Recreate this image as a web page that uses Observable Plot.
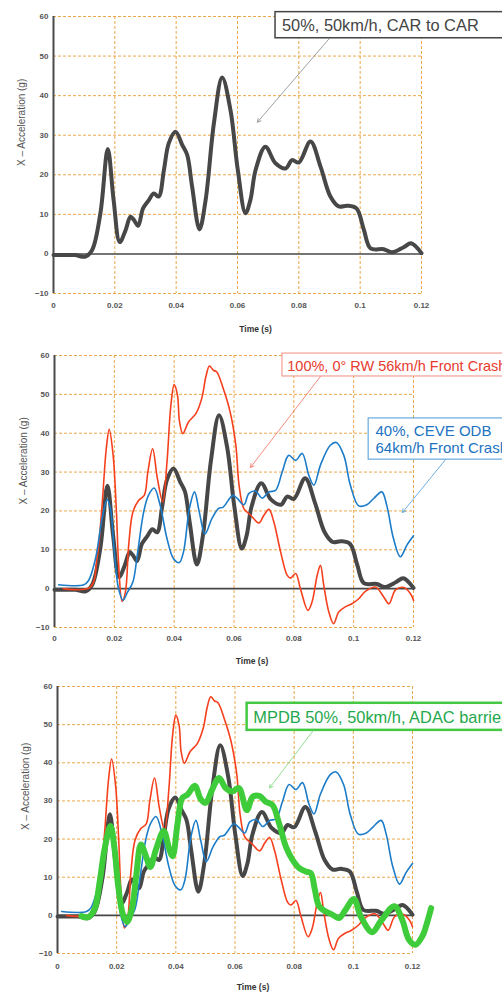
<!DOCTYPE html>
<html><head><meta charset="utf-8">
<script src="https://cdn.jsdelivr.net/npm/d3@7"></script>
<script src="https://cdn.jsdelivr.net/npm/@observablehq/plot@0.6"></script>
<style>
body{margin:0;background:#fff;width:502px;height:992px;overflow:hidden;position:relative;font-family:"Liberation Sans",Arial,sans-serif}
.panel{position:absolute;left:0;width:502px;overflow:hidden}
</style></head><body>
<div id="p1" class="panel" style="top:0;height:340px"></div>
<div id="p2" class="panel" style="top:340px;height:330px"></div>
<div id="p3" class="panel" style="top:670px;height:322px"></div>
<script>
// ---- tick labels ----
const timeTicks = [0, 0.02, 0.04, 0.06, 0.08, 0.1, 0.12];
const accelTicks = [-10, 0, 10, 20, 30, 40, 50, 60];
const xTitle = "Time (s)";
const yTitle = "X – Acceleration (g)";

// ---- series: 50%, 50km/h, CAR to CAR (black) ----
const carT = [0, 0.004, 0.007, 0.0104, 0.0126, 0.0153, 0.0177, 0.0196, 0.0216, 0.0235, 0.0251, 0.0262, 0.0276, 0.0292, 0.0311, 0.0327, 0.0343, 0.036, 0.0376, 0.0398, 0.042, 0.0436, 0.0452, 0.0476, 0.0496, 0.0523, 0.055, 0.0577, 0.0601, 0.0626, 0.0642, 0.0659, 0.0691, 0.0724, 0.0757, 0.0778, 0.08, 0.0838, 0.0871, 0.0903, 0.093, 0.0958, 0.0988, 0.1012, 0.1034, 0.1077, 0.1104, 0.1142, 0.1166, 0.12];
const carG = [-0.3, -0.3, -0.3, -0.7, 1, 10.3, 26.5, 13.6, 3.0, 6, 9.4, 8.6, 7.1, 11.5, 13.6, 15.3, 14.5, 21.2, 28, 30.9, 27.5, 25, 17, 6.2, 13.6, 33, 44.6, 36.4, 21.2, 10.3, 13.6, 21.2, 27.1, 22.9, 21.6, 23.7, 23.1, 28.4, 22, 14.5, 12, 12.2, 11.5, 6.1, 1.4, 1.2, 0.4, 1.7, 2.7, 0.2];

// ---- series: 100%, 0° RW 56km/h (red) ----
const rwT = [0.003, 0.012, 0.0142, 0.0159, 0.0173, 0.0183, 0.0196, 0.0207, 0.0214, 0.0226, 0.0237, 0.0248, 0.0262, 0.0281, 0.03, 0.0312, 0.0328, 0.0344, 0.0362, 0.0376, 0.0389, 0.04, 0.0411, 0.0418, 0.0429, 0.0448, 0.0473, 0.0492, 0.0507, 0.0518, 0.0531, 0.0542, 0.0564, 0.0587, 0.0606, 0.0617, 0.0633, 0.0656, 0.0683, 0.07, 0.0717, 0.0733, 0.0756, 0.0778, 0.0789, 0.0806, 0.0822, 0.0847, 0.0861, 0.0878, 0.0889, 0.09, 0.0917, 0.0933, 0.095, 0.0972, 0.0994, 0.1017, 0.1039, 0.1073, 0.1101, 0.1118, 0.114, 0.1168, 0.119, 0.12];
const rwG = [0, 0.4, 7.7, 21.5, 36, 41, 34.3, 19.7, 6.9, -3.3, -0.9, 11.2, 19.7, 22.7, 24, 30, 36, 28.3, 22.3, 32.6, 47.2, 52.5, 49.8, 42.9, 39.9, 42.9, 45.1, 48.9, 54.9, 57.3, 56.2, 55.8, 51.5, 45.5, 37, 26.6, 20.6, 18.9, 16.9, 18.9, 20.4, 17.2, 9.4, 3.4, 2.7, 3.9, 0, -5.6, -3.4, 3.4, 6, 0.9, -6, -9, -6, -4.7, -3.9, -2.6, -0.7, 0.4, -2.2, -3.9, -0.3, 0.3, -1.3, -3];

// ---- series: 40%, CEVE ODB 64km/h (blue) ----
const odbT = [0.0014, 0.0098, 0.0114, 0.0137, 0.0159, 0.0176, 0.0187, 0.02, 0.0214, 0.0229, 0.0244, 0.0262, 0.0278, 0.0298, 0.0314, 0.0333, 0.0353, 0.0376, 0.0398, 0.0417, 0.0431, 0.0451, 0.0468, 0.0484, 0.0503, 0.0526, 0.0548, 0.0564, 0.0596, 0.0611, 0.0633, 0.065, 0.0672, 0.0694, 0.0717, 0.0739, 0.0761, 0.0783, 0.0806, 0.0828, 0.085, 0.0867, 0.0889, 0.0922, 0.0942, 0.0967, 0.0989, 0.1017, 0.1044, 0.1067, 0.1094, 0.1111, 0.1133, 0.1156, 0.1178, 0.12];
const odbG = [1, 1, 2.1, 7.7, 18, 22.9, 20.6, 9.4, 0, -3, -0.9, 1.7, 9.4, 19.7, 24, 25.9, 21.5, 12.9, 7.7, 6.7, 9.4, 20.6, 24.9, 19.7, 14.1, 18, 20.6, 21, 24, 23.2, 21.6, 24.5, 25.1, 23.3, 24.9, 25.3, 30, 34.3, 33, 34.8, 29.2, 26.6, 31.8, 36.9, 37.6, 34.3, 26.6, 21.3, 21.6, 23.2, 24.9, 21.3, 12.9, 8.2, 11.2, 13.6];

// ---- series: MPDB 50%, 50km/h, ADAC barrier (green) ----
const mpdbT = [0.0081, 0.0103, 0.0125, 0.0142, 0.0159, 0.0179, 0.0193, 0.0204, 0.0221, 0.0235, 0.0251, 0.0266, 0.0282, 0.0299, 0.0314, 0.0333, 0.0359, 0.0378, 0.0389, 0.0406, 0.0422, 0.0439, 0.0464, 0.0484, 0.0501, 0.0523, 0.0546, 0.0568, 0.0591, 0.0613, 0.064, 0.066, 0.0682, 0.0704, 0.0727, 0.0749, 0.0772, 0.0794, 0.0817, 0.0839, 0.0856, 0.087, 0.0884, 0.0907, 0.0929, 0.0952, 0.0974, 0.1002, 0.1025, 0.1064, 0.1092, 0.1139, 0.1165, 0.1188, 0.121, 0.1233, 0.1249, 0.1263];
const mpdbG = [-0.2, -0.5, 1.6, 8.5, 17.3, 23.4, 17.3, 8.5, 0.3, -1.7, 1.6, 10.3, 18.6, 15.5, 12.7, 17.3, 22.1, 17.3, 15.5, 24.2, 30.8, 31.6, 34, 30.5, 29.5, 33, 36, 33.4, 32.5, 33.4, 27.6, 31.1, 31.3, 29.8, 28.9, 24.1, 18, 14.6, 12.4, 11.5, 11.1, 6.7, 2.4, 1, 0.2, -0.7, 1.5, 4.3, -0.3, -4.4, -1.6, 2.4, -1.1, -6.4, -7.7, -5.5, -2, 1.9];

// ---- annotation labels ----
const carLabel = "50%, 50km/h, CAR to CAR";
const rwLabel = "100%, 0° RW 56km/h Front Crash";
const odbLabel = "40%, CEVE ODB\n64km/h Front Crash";
const mpdbLabel = "MPDB 50%, 50km/h, ADAC barrier";

const toRows = (T, G) => T.map((t, i) => ({t, g: G[i]}));
const car = toRows(carT, carG), rw = toRows(rwT, rwG), odb = toRows(odbT, odbG), mpdb = toRows(mpdbT, mpdbG);

const GRID = "#eaa84a";
const styles = {
  car:  {stroke: "#474747", strokeWidth: 4},
  rw:   {stroke: "#f5401e", strokeWidth: 1.6},
  odb:  {stroke: "#1c7cc8", strokeWidth: 1.6},
  mpdb: {stroke: "#3fcc3a", strokeWidth: 6}
};
const line = (rows, s) => Plot.line(rows, {x: "t", y: "g", curve: "catmull-rom", strokeLinejoin: "round", strokeLinecap: "round", ...s});

function callout(n) {
  return [
    Plot.rect([n], {x1: "bx1", x2: "bx2", y1: "by1", y2: "by2", fill: "white", stroke: n.border, strokeWidth: n.borderWidth}),
    Plot.text([n], {x: "tx", y: "ty", text: "label", textAnchor: "start", lineAnchor: "middle", lineHeight: 1.15, fontSize: n.size, fill: n.color, fontFamily: "Liberation Sans, Arial, sans-serif"}),
    Plot.arrow([n], {x1: "ax1", y1: "ay1", x2: "ax2", y2: "ay2", stroke: n.arrow, strokeWidth: 0.8, headLength: 7})
  ];
}

function panel({height, mt, mb, ml, mr, pad, titleDy, yLabDx, yLabDy, series, notes}) {
  return Plot.plot({
    width: 502, height, marginTop: mt, marginBottom: mb, marginLeft: ml, marginRight: mr,
    x: {domain: [0, 0.12]},
    y: {domain: [-10, 60]},
    style: {fontFamily: "Liberation Sans, Arial, sans-serif", background: "white", overflow: "visible"},
    marks: [
      Plot.gridX(timeTicks.filter(d => d > 0), {stroke: GRID, strokeOpacity: 1, strokeWidth: 1, strokeDasharray: "3,2"}),
      Plot.gridY(accelTicks.filter(d => d !== 0), {stroke: GRID, strokeOpacity: 1, strokeWidth: 1, strokeDasharray: "3,2"}),
      Plot.axisX(timeTicks, {tickSize: 0, tickPadding: pad, tickFormat: d => String(d), label: null, fontSize: 8, fontWeight: "bold", fill: "#555"}),
      Plot.axisY(accelTicks, {tickSize: 0, tickPadding: 5, label: null, fontSize: 8, fontWeight: "bold", fill: "#555"}),
      Plot.ruleY([0], {stroke: "#474747", strokeWidth: 1.6}),
      Plot.ruleX([0], {stroke: "#4a4a4a", strokeWidth: 2}),
      ...series,
      ...notes.flatMap(callout),
      Plot.text([xTitle], {text: d => d, frameAnchor: "bottom", dy: titleDy, dx: 18, fontSize: 8.5, fontWeight: "bold", fill: "#333"}),
      Plot.text([yTitle], {text: d => d, frameAnchor: "left", rotate: -90, dx: yLabDx, dy: yLabDy, fontSize: 10, fill: "#555"})
    ]
  });
}

document.getElementById("p1").append(panel({
  height: 340, mt: 16, mb: 47, ml: 53, mr: 81, pad: 9, titleDy: 38, yLabDx: -32, yLabDy: 11,
  series: [line(car, styles.car)],
  notes: [{label: carLabel, bx1: 0.0724, bx2: 0.2, by1: 54.5, by2: 61.1, tx: 0.0745, ty: 57.8, size: 16.4,
           ax1: 0.09, ay1: 54.5, ax2: 0.0665, ay2: 33.3, color: "#444", border: "#444", borderWidth: 1.5, arrow: "#888"}]
}));

document.getElementById("p2").append(panel({
  height: 330, mt: 15, mb: 43, ml: 54, mr: 89, pad: 8, titleDy: 36, yLabDx: -31, yLabDy: 13,
  series: [line(car, styles.car), line(rw, styles.rw), line(odb, styles.odb)],
  notes: [
    {label: rwLabel, bx1: 0.0762, bx2: 0.2, by1: 54.6, by2: 60.5, tx: 0.0778, ty: 57.4, size: 14.5,
     ax1: 0.0889, ay1: 54.6, ax2: 0.0655, ay2: 31.2, color: "#e83a2e", border: "#f28a80", borderWidth: 1, arrow: "#f07060"},
    {label: odbLabel, bx1: 0.105, bx2: 0.2, by1: 33.2, by2: 43.8, tx: 0.1073, ty: 38.45, size: 15,
     ax1: 0.1307, ay1: 33.2, ax2: 0.1163, ay2: 19.6, color: "#2173c0", border: "#4a9ad8", borderWidth: 1, arrow: "#4a9ad8"}
  ]
}));

document.getElementById("p3").append(panel({
  height: 322, mt: 16, mb: 39, ml: 57, mr: 90, pad: 10, titleDy: 36, yLabDx: -32, yLabDy: 10,
  series: [line(car, styles.car), line(rw, styles.rw), line(odb, styles.odb), line(mpdb, styles.mpdb)],
  notes: [{label: mpdbLabel, bx1: 0.0641, bx2: 0.2, by1: 48.5, by2: 55.6, tx: 0.0662, ty: 52, size: 16.4,
           ax1: 0.0865, ay1: 48.5, ax2: 0.0717, ay2: 33.4, color: "#1fa84c", border: "#45c945", borderWidth: 2.5, arrow: "#7ad67a"}]
}));
</script>
</body></html>
